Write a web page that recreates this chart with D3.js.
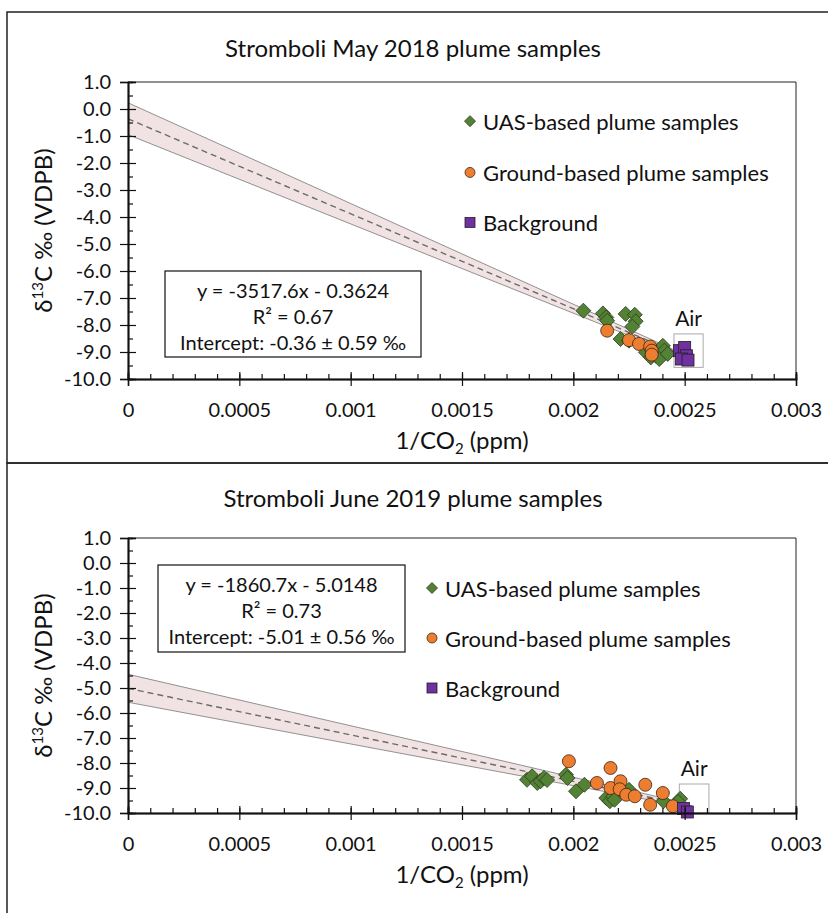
<!doctype html>
<meta charset="utf-8">
<title>Stromboli plume samples</title>
<style>
  body { margin: 0; background: #fff; }
  svg text { font-family: Lato, "Open Sans", sans-serif; fill: #111; }
</style>
<svg id="visual" width="828" height="913"></svg>
<script src="https://cdn.jsdelivr.net/npm/d3@7"></script>
<script>

// (axis ticks)
var xTicks = [0, 0.0005, 0.001, 0.0015, 0.002, 0.0025, 0.003];
var yTicks = [1, 0, -1, -2, -3, -4, -5, -6, -7, -8, -9, -10];
var legendLabels = ["UAS-based plume samples", "Ground-based plume samples", "Background"];

// (May 2018) [1/CO2, d13C]
var may2018Uas = [
	[0.002045, -7.47], [0.002133, -7.57], [0.002148, -7.72], [0.002152, -7.84],
	[0.002235, -7.59], [0.002276, -7.62], [0.002280, -7.86], [0.002265, -8.06],
	[0.002212, -8.52], [0.002250, -8.58], [0.002326, -9.01], [0.002348, -9.20],
	[0.002371, -9.14], [0.002402, -8.77], [0.002409, -8.95], [0.002386, -9.26],
	[0.002424, -9.07]
];
var may2018Ground = [
	[0.002152, -8.21], [0.002250, -8.56], [0.002295, -8.70],
	[0.002345, -8.80], [0.002352, -8.95], [0.002352, -9.10]
];
var may2018Background = [
	[0.002477, -8.95], [0.002500, -8.83], [0.002508, -9.14],
	[0.002485, -9.26], [0.002515, -9.30]
];
var may2018Fit = [-3517.6, -0.3624];
var may2018Band = [[0, -0.95, 0.23], [0.00245, -9.05, -8.91]];
var may2018Air = [0.002452, 0.002583, -8.33, -9.57];
var may2018Eq = ["y = -3517.6x - 0.3624", "R\u00b2 = 0.67", "Intercept: -0.36 \u00b1 0.59 \u2030"];

// (June 2019)
var june2019Uas = [
	[0.001792, -8.67], [0.001815, -8.53], [0.001838, -8.80], [0.001853, -8.73],
	[0.001868, -8.60], [0.001882, -8.68], [0.001967, -8.47], [0.001974, -8.60],
	[0.002012, -9.13], [0.002050, -8.87], [0.002148, -9.40], [0.002164, -9.53],
	[0.002179, -9.33], [0.002185, -9.47], [0.002250, -9.07], [0.002405, -9.53],
	[0.002480, -9.43], [0.002470, -9.55]
];
var june2019Ground = [
	[0.001980, -7.93], [0.002106, -8.80], [0.002167, -8.20], [0.002167, -9.00],
	[0.002212, -8.73], [0.002208, -9.05], [0.002238, -9.27], [0.002276, -9.33],
	[0.002323, -8.87], [0.002345, -9.67], [0.002402, -9.20], [0.002447, -9.73]
];
var june2019Background = [[0.002495, -9.82], [0.002512, -9.96]];
var june2019Fit = [-1860.7, -5.0148];
var june2019Band = [[0, -5.57, -4.45], [0.0025, -9.74, -9.60]];
var june2019Air = [0.002476, 0.002609, -8.84, -10];
var june2019Eq = ["y = -1860.7x - 5.0148", "R\u00b2 = 0.73", "Intercept: -5.01 \u00b1 0.56 \u2030"];

var svg = d3.select("#visual");

// outer frames
svg.append("rect").attr("x", 7).attr("y", 12).attr("width", 840).attr("height", 451)
	.attr("fill", "none").attr("stroke", "#222").attr("stroke-width", 1.5);
svg.append("rect").attr("x", 7).attr("y", 463).attr("width", 840).attr("height", 470)
	.attr("fill", "none").attr("stroke", "#222").attr("stroke-width", 1.5);

var panels = [
	{title: "Stromboli May 2018 plume samples", titleY: 47, top: 82, bottom: 379,
	 uas: may2018Uas, ground: may2018Ground, bg: may2018Background,
	 fit: may2018Fit, band: may2018Band, air: may2018Air, eq: may2018Eq,
	 eqBox: [165, 271, 256, 86], legX: 470, legY: [-0.45, -2.35, -4.2]},
	{title: "Stromboli June 2019 plume samples", titleY: 497, top: 538, bottom: 813,
	 uas: june2019Uas, ground: june2019Ground, bg: june2019Background,
	 fit: june2019Fit, band: june2019Band, air: june2019Air, eq: june2019Eq,
	 eqBox: [158, 565, 247, 87], legX: 432, legY: [-1, -3, -5]}
];

var green = "#548235", orange = "#ed7d31", purple = "#7030a0";

function diamond(g, s, fill) {
	return g.append("path").attr("d", "M0," + (-s) + "L" + s + ",0L0," + s + "L" + (-s) + ",0Z")
		.attr("fill", fill).attr("stroke", "#2b3a1e").attr("stroke-width", 0.8);
}

panels.forEach(function(p) {
	var x = d3.scaleLinear().domain([0, 0.003]).range([128, 796]);
	var y = d3.scaleLinear().domain([-10, 1]).range([p.bottom, p.top]);
	var g = svg.append("g");

	g.append("text").attr("x", 413).attr("y", p.titleY).attr("text-anchor", "middle")
		.attr("dominant-baseline", "central").attr("font-size", 24).text(p.title);

	// plot frame (top + right)
	g.append("path")
		.attr("d", "M128," + p.top + "H796V" + p.bottom)
		.attr("fill", "none").attr("stroke", "#222").attr("stroke-width", 1);

	// band
	var area = d3.area().x(function(d) { return x(d[0]); })
		.y0(function(d) { return y(d[1]); }).y1(function(d) { return y(d[2]); });
	g.append("path").datum(p.band).attr("d", area).attr("fill", "#f1e3e3");
	g.append("path").datum(p.band)
		.attr("d", d3.line().x(function(d) { return x(d[0]); }).y(function(d) { return y(d[1]); }))
		.attr("fill", "none").attr("stroke", "#777").attr("stroke-width", 0.8);
	g.append("path").datum(p.band)
		.attr("d", d3.line().x(function(d) { return x(d[0]); }).y(function(d) { return y(d[2]); }))
		.attr("fill", "none").attr("stroke", "#777").attr("stroke-width", 0.8);

	// fit line
	var fitEnd = p.band[p.band.length - 1][0] + 0.00005;
	g.append("line")
		.attr("x1", x(0)).attr("y1", y(p.fit[1]))
		.attr("x2", x(fitEnd)).attr("y2", y(p.fit[0] * fitEnd + p.fit[1]))
		.attr("stroke", "#6b6b6b").attr("stroke-width", 1.4).attr("stroke-dasharray", "6,4");

	// Air box
	g.append("rect")
		.attr("x", x(p.air[0])).attr("y", y(p.air[2]))
		.attr("width", x(p.air[1]) - x(p.air[0])).attr("height", y(p.air[3]) - y(p.air[2]))
		.attr("fill", "none").attr("stroke", "#aaa").attr("stroke-width", 1);
	g.append("text").attr("x", x((p.air[0] + p.air[1]) / 2)).attr("y", y(p.air[2]) - 8)
		.attr("text-anchor", "middle").attr("font-size", 21).text("Air");

	// points
	p.uas.forEach(function(d) {
		diamond(g, 7.5, green).attr("transform", "translate(" + x(d[0]) + "," + y(d[1]) + ")");
	});
	g.selectAll(null).data(p.ground).enter().append("circle")
		.attr("cx", function(d) { return x(d[0]); }).attr("cy", function(d) { return y(d[1]); })
		.attr("r", 6.5).attr("fill", orange).attr("stroke", "#3a2410").attr("stroke-width", 0.8);
	g.selectAll(null).data(p.bg).enter().append("rect")
		.attr("x", function(d) { return x(d[0]) - 6; }).attr("y", function(d) { return y(d[1]) - 6; })
		.attr("width", 12).attr("height", 12)
		.attr("fill", purple).attr("stroke", "#222").attr("stroke-width", 0.8);

	// axes
	var ax = g.append("g").attr("transform", "translate(0," + p.bottom + ")");
	ax.call(d3.axisBottom(x).tickValues(xTicks).tickSize(7).tickPadding(17)
		.tickFormat(function(d) { return d === 0 ? "0" : String(+d.toFixed(4)); }));
	ax.append("g").call(d3.axisTop(x).tickValues(xTicks).tickSize(7).tickFormat(""));
	ax.append("g").call(d3.axisTop(x).tickValues(d3.range(0, 0.00301, 0.0001)).tickSize(5).tickFormat(""));

	var ay = g.append("g").attr("transform", "translate(128,0)");
	ay.call(d3.axisLeft(y).tickValues(yTicks).tickSize(8).tickPadding(9)
		.tickFormat(function(d) { return d.toFixed(1); }));
	ay.append("g").call(d3.axisRight(y).tickValues(yTicks).tickSize(8).tickFormat(""));
	ay.append("g").call(d3.axisRight(y).tickValues(d3.range(-9.5, 1, 1)).tickSize(5).tickFormat(""));

	g.selectAll(".domain").attr("stroke", "#111").attr("stroke-width", 1.5);
	g.selectAll(".tick line").attr("stroke", "#111").attr("stroke-width", 1.2);
	g.selectAll(".tick text").attr("font-size", 20).attr("font-family", "Lato, sans-serif").attr("fill", "#111");

	// axis titles
	var xt = g.append("text").attr("x", 462).attr("y", p.bottom + 70)
		.attr("text-anchor", "middle").attr("font-size", 24);
	xt.append("tspan").text("1/CO");
	xt.append("tspan").attr("font-size", 15).attr("dy", 5).text("2");
	xt.append("tspan").attr("dy", -5).text(" (ppm)");

	var yt = g.append("text")
		.attr("transform", "translate(52," + (p.top + p.bottom) / 2 + ") rotate(-90)")
		.attr("text-anchor", "middle").attr("font-size", 24);
	yt.append("tspan").text("\u03b4");
	yt.append("tspan").attr("font-size", 15).attr("dy", -9).text("13");
	yt.append("tspan").attr("dy", 9).text("C \u2030 (VDPB)");

	// equation box
	var b = p.eqBox;
	g.append("rect").attr("x", b[0]).attr("y", b[1]).attr("width", b[2]).attr("height", b[3])
		.attr("fill", "#fff").attr("stroke", "#111").attr("stroke-width", 1.2);
	g.selectAll(null).data(p.eq).enter().append("text")
		.attr("x", b[0] + b[2] / 2).attr("y", function(d, i) { return b[1] + 19 + i * 26; })
		.attr("dominant-baseline", "central").attr("text-anchor", "middle")
		.attr("font-size", 20).text(function(d) { return d; });

	// legend
	var lg = g.append("g");
	diamond(lg, 5.5, green).attr("transform", "translate(" + p.legX + "," + y(p.legY[0]) + ")");
	lg.append("circle").attr("cx", p.legX).attr("cy", y(p.legY[1])).attr("r", 5)
		.attr("fill", orange).attr("stroke", "#3a2410").attr("stroke-width", 0.8);
	lg.append("rect").attr("x", p.legX - 5).attr("y", y(p.legY[2]) - 5).attr("width", 10).attr("height", 10)
		.attr("fill", purple).attr("stroke", "#222").attr("stroke-width", 0.8);
	lg.selectAll("text").data(legendLabels).enter().append("text")
		.attr("x", p.legX + 13).attr("y", function(d, i) { return y(p.legY[i]); })
		.attr("dominant-baseline", "central").attr("font-size", 22).text(function(d) { return d; });
});

</script>
